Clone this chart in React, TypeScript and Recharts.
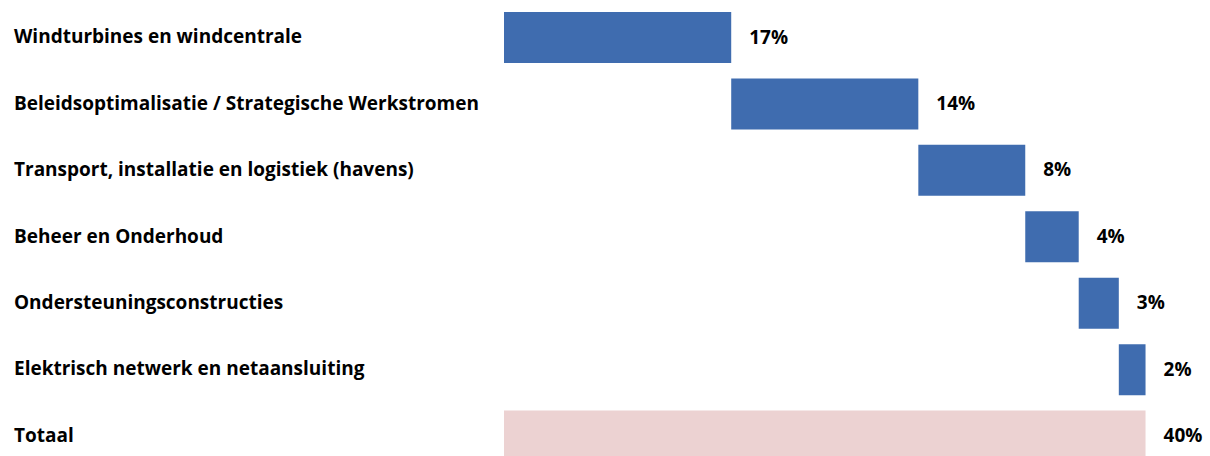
import React from 'react';
import { BarChart, Bar, XAxis, YAxis, Cell, LabelList } from 'recharts';

const categories = [
  'Windturbines en windcentrale',
  'Beleidsoptimalisatie / Strategische Werkstromen',
  'Transport, installatie en logistiek (havens)',
  'Beheer en Onderhoud',
  'Ondersteuningsconstructies',
  'Elektrisch netwerk en netaansluiting',
  'Totaal',
];
const stepValues = [17, 14, 8, 4, 3, 2];
const valueLabels = ['17%', '14%', '8%', '4%', '3%', '2%', '40%'];

const BLUE = '#3F6CAF';
const PINK = '#ECD2D2';
const FONT = '"Open Sans", Lato, sans-serif';

// waterfall: each step floats on the running total, last row is the total
const total = stepValues.reduce((a, b) => a + b, 0);
let running = 0;
const data = categories.map((name, i) => {
  if (i < stepValues.length) {
    const row = { name, base: running, value: stepValues[i], label: valueLabels[i] };
    running += stepValues[i];
    return row;
  }
  return { name, base: 0, value: total, label: valueLabels[i] };
});

const CategoryTick = (props: any) => {
  const { y, payload } = props;
  return (
    <text
      x={14}
      y={y - 1}
      dominantBaseline="central"
      textAnchor="start"
      fontFamily={FONT}
      fontWeight={700}
      fontSize={19}
      fill="#000"
    >
      {payload.value}
    </text>
  );
};

const ValueLabel = (props: any) => {
  const { x, y, width, height, index } = props;
  return (
    <text
      x={x + width + 18}
      y={y + height / 2 - 1}
      dominantBaseline="central"
      fontFamily={FONT}
      fontWeight={700}
      fontSize={19}
      fill="#000"
    >
      {data[index].label}
    </text>
  );
};

export default function App() {
  return (
    <div style={{ position: 'absolute', left: 0, top: 0, width: 1210, height: 456, overflow: 'hidden', background: '#fff' }}>
      <BarChart
        width={1210}
        height={469}
        data={data}
        layout="vertical"
        margin={{ top: 4, right: 11, bottom: 0, left: 0 }}
        barSize={51}
      >
        <XAxis type="number" domain={[0, 52]} hide />
        <YAxis
          type="category"
          dataKey="name"
          width={504}
          axisLine={false}
          tickLine={false}
          tick={<CategoryTick />}
          interval={0}
        />
        <Bar dataKey="base" stackId="w" fill="transparent" isAnimationActive={false} />
        <Bar dataKey="value" stackId="w" isAnimationActive={false}>
          {data.map((d, i) => (
            <Cell key={d.name} fill={i === data.length - 1 ? PINK : BLUE} />
          ))}
          <LabelList dataKey="value" content={<ValueLabel />} />
        </Bar>
      </BarChart>
    </div>
  );
}
